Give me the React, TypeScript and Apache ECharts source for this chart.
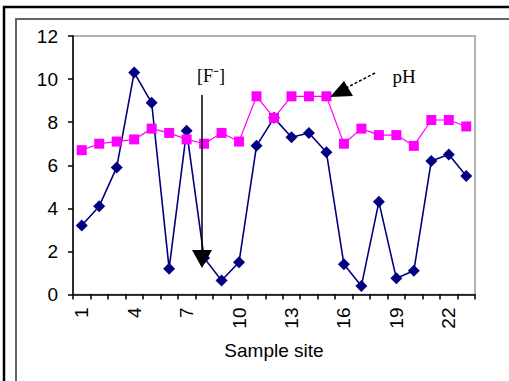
import React, { useEffect, useRef } from "react";
import * as echarts from "echarts";

const sites = Array.from({ length: 23 }, (_, i) => String(i + 1));
const fluoride = [3.2, 4.1, 5.9, 10.3, 8.9, 1.2, 7.6, 1.7, 0.65, 1.5, 6.9, 8.2, 7.3, 7.5, 6.6, 1.4, 0.4, 4.3, 0.75, 1.1, 6.2, 6.5, 5.5];
const ph = [6.7, 7.0, 7.1, 7.2, 7.7, 7.5, 7.2, 7.0, 7.5, 7.1, 9.2, 8.2, 9.2, 9.2, 9.2, 7.0, 7.7, 7.4, 7.4, 6.9, 8.1, 8.1, 7.8];
const yTicks = { min: 0, max: 12, interval: 2 };
const xTitle = "Sample site";
const labelF = "[F\u207B]";
const labelPH = "pH";

export default function App() {
  const ref = useRef<HTMLDivElement>(null);
  useEffect(() => {
    if (!ref.current) return;
    const chart = echarts.init(ref.current, null, { renderer: "svg" });
    const axisFont = { fontFamily: "Liberation Sans", fontSize: 19, color: "#000" };
    chart.setOption({
      animation: false,
      backgroundColor: "#fff",
      grid: {
        left: 73,
        right: 34,
        top: 36,
        bottom: 86.5,
        show: true,
        borderColor: "#999",
        borderWidth: 1.5,
        backgroundColor: "transparent",
      },
      xAxis: {
        type: "category",
        data: sites,
        boundaryGap: true,
        name: xTitle,
        nameLocation: "middle",
        nameGap: 46,
        nameTextStyle: { ...axisFont },
        axisLine: { lineStyle: { color: "#000", width: 1.5 } },
        axisTick: { show: true, interval: 0, length: 5, lineStyle: { color: "#000", width: 1.5 } },
        axisLabel: { ...axisFont, interval: 2, rotate: 90, margin: 13 },
        splitLine: { show: false },
      },
      yAxis: {
        type: "value",
        min: yTicks.min,
        max: yTicks.max,
        interval: yTicks.interval,
        axisLine: { show: true, lineStyle: { color: "#000", width: 1.5 } },
        axisTick: { show: true, length: 5, lineStyle: { color: "#000", width: 1.5 } },
        axisLabel: { ...axisFont, margin: 15 },
        splitLine: { show: false },
      },
      series: [
        {
          name: "F",
          type: "line",
          data: fluoride,
          symbol: "diamond",
          symbolSize: 12,
          showAllSymbol: true,
          lineStyle: { color: "#000080", width: 1.6 },
          itemStyle: { color: "#000080" },
          z: 2,
        },
        {
          name: "pH",
          type: "line",
          data: ph,
          symbol: "rect",
          symbolSize: 10,
          showAllSymbol: true,
          lineStyle: { color: "#FF00FF", width: 1.2 },
          itemStyle: { color: "#FF00FF" },
          z: 3,
        },
      ],
      graphic: [
        { type: "rect", shape: { x: 4, y: 7, width: 700, height: 500 }, style: { fill: "none", stroke: "#000", lineWidth: 2.5 }, z: 10 },
        { type: "rect", shape: { x: 16, y: 19, width: 700, height: 500 }, style: { fill: "none", stroke: "#666", lineWidth: 2 }, z: 10 },
        { type: "line", shape: { x1: 202, y1: 95, x2: 202, y2: 252 }, style: { stroke: "#000", lineWidth: 1.5 }, z: 20 },
        { type: "polygon", shape: { points: [[192, 250], [212, 250], [202, 268]] }, style: { fill: "#000" }, z: 20 },
        { type: "line", shape: { x1: 375, y1: 73, x2: 346, y2: 88 }, style: { stroke: "#000", lineWidth: 1.5, lineDash: [3, 2] }, z: 20 },
        { type: "polygon", shape: { points: [[330, 97], [344, 81], [353, 96]] }, style: { fill: "#000" }, z: 20 },
        { type: "text", x: 211, y: 76, style: { text: labelF, fontFamily: "Liberation Serif", fontSize: 18, fill: "#000", align: "center", verticalAlign: "middle" }, z: 20 },
        { type: "text", x: 404, y: 76, style: { text: labelPH, fontFamily: "Liberation Serif", fontSize: 19, fill: "#000", align: "center", verticalAlign: "middle" }, z: 20 },
      ],
    });
    return () => chart.dispose();
  }, []);
  return <div ref={ref} style={{ position: "fixed", left: 0, top: 0, width: 509, height: 381 }} />;
}
